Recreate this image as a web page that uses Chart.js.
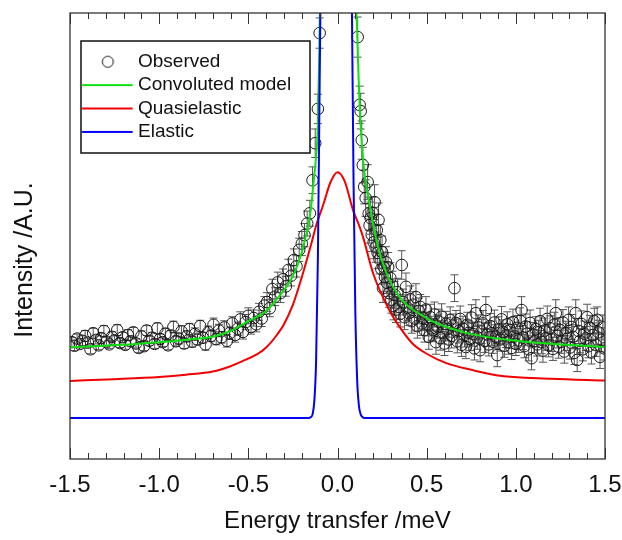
<!DOCTYPE html>
<html><head><meta charset="utf-8">
<script src="https://cdn.jsdelivr.net/npm/chart.js@4.4.1/dist/chart.umd.min.js"></script>
<style>html,body{margin:0;padding:0;background:#fff}#wrap{width:622px;height:540px}</style>
</head><body><div id="wrap"><canvas id="c" width="622" height="540"></canvas></div>
<script>
// ---------- data ----------
const seriesNames = ['Observed', 'Convoluted model', 'Quasielastic', 'Elastic'];
const xTickValues = [-1.5, -1.0, -0.5, 0, 0.5, 1.0, 1.5];
const xTickLabels = ['-1.5', '-1.0', '-0.5', '0.0', '0.5', '1.0', '1.5'];
const xTitle = 'Energy transfer /meV';
const yTitle = 'Intensity /A.U.';

// observed, energy-loss side
const leftE = [-1.49,-1.475,-1.46,-1.445,-1.43,-1.415,-1.4,-1.385,-1.37,-1.355,
-1.34,-1.325,-1.31,-1.295,-1.28,-1.265,-1.25,-1.235,-1.22,-1.205,
-1.19,-1.175,-1.16,-1.145,-1.13,-1.115,-1.1,-1.085,-1.07,-1.055,
-1.04,-1.025,-1.01,-0.995,-0.98,-0.965,-0.95,-0.935,-0.92,-0.905,
-0.89,-0.875,-0.86,-0.845,-0.83,-0.815,-0.8,-0.785,-0.77,-0.755,
-0.74,-0.725,-0.71,-0.695,-0.68,-0.665,-0.65,-0.635,-0.62,-0.605,
-0.59,-0.575,-0.56,-0.545,-0.53,-0.515,-0.5,-0.485,-0.47,-0.455,
-0.44,-0.425,-0.41,-0.395,-0.38,-0.365,-0.35,-0.335,-0.32,-0.305,
-0.29,-0.275,-0.26,-0.245,-0.23,-0.215,-0.2,-0.185,-0.17,-0.155,
-0.14,-0.125,-0.11,-0.1];
const leftI = [26.2,25.4,27.0,25.8,26.5,27.6,26.1,24.6,28.2,26.7,
25.5,27.1,28.7,26.3,25.7,27.4,26.6,28.9,26.0,27.3,
25.6,27.8,26.4,28.4,25.9,24.9,27.5,25.3,28.8,26.5,
27.2,25.8,29.3,26.9,26.2,28.1,25.5,27.7,29.6,26.4,
27.0,28.6,25.9,27.5,29.1,26.3,28.0,26.8,29.8,27.2,
25.7,28.4,27.6,30.1,26.9,28.8,27.3,29.5,26.5,28.2,
30.4,27.8,29.2,31.3,28.5,30.7,32.1,29.6,31.6,30.2,
33.0,31.5,34.4,35.2,33.8,38.1,36.4,39.6,37.2,40.3,
38.7,42.4,41.1,44.6,43.2,46.9,48.3,50.2,52.8,55.1,
62.5,70.8,78.5,95.5];
const leftErr = [1.0,1.1,1.0,0.9,1.1,1.2,1.0,1.0,1.1,0.9,
1.0,1.1,1.2,1.0,0.9,1.1,1.0,1.2,1.0,1.1,
1.0,1.2,1.1,1.1,1.0,1.0,1.2,1.0,1.1,1.0,
1.1,1.0,1.2,1.1,1.0,1.2,1.0,1.1,1.3,1.1,
1.2,1.3,1.1,1.2,1.3,1.2,1.4,1.2,1.3,1.2,
1.3,1.4,1.3,1.5,1.3,1.4,1.3,1.5,1.4,1.4,
1.5,1.6,1.5,1.7,1.6,1.7,1.8,1.6,1.8,1.7,
1.9,1.8,2.0,2.1,1.9,2.2,2.0,2.3,2.1,2.3,
2.2,2.4,2.3,2.5,2.4,2.6,2.7,2.6,2.8,2.9,
3.0,3.2,3.3,3.4];

// observed, energy-gain side close to the peak
const nearE = [0.113,0.124,0.130,0.136,0.142,0.150,0.158,0.169,0.175,0.180,
0.186,0.192,0.197,0.203,0.208,0.214,0.220,0.225,0.230,0.236,
0.240,0.246,0.250,0.255,0.260,0.266,0.272,0.278,0.284,0.290,
0.296,0.302,0.308,0.314];
const nearI = [94.6,79.4,78.0,71.5,65.9,61.0,58.5,62.1,55.0,52.4,
54.0,50.3,55.2,48.6,57.6,47.5,51.3,46.2,53.6,44.8,
49.1,42.6,46.4,38.3,43.0,40.8,44.1,39.5,43.0,37.2,
40.6,35.7,38.9,34.3];
const nearErr = [4.5,4.2,4.0,4.3,4.0,3.8,4.1,3.9,3.7,4.0,
3.6,3.8,3.5,3.7,3.9,3.4,3.6,3.5,3.8,3.3,
3.5,3.4,3.6,3.2,3.4,3.3,3.5,3.1,3.3,3.2,
3.4,3.0,3.2,3.1];

// observed, energy-gain tail
const tailE = [0.320,0.328,0.336,0.344,0.352,0.360,0.368,0.376,0.384,0.392,
0.400,0.408,0.416,0.424,0.432,0.440,0.448,0.456,0.464,0.472,
0.480,0.488,0.496,0.504,0.512,0.520,0.528,0.536,0.544,0.552,
0.560,0.568,0.576,0.584,0.592,0.600,0.608,0.616,0.624,0.632,
0.640,0.648,0.656,0.664,0.672,0.680,0.688,0.696,0.704,0.712,
0.720,0.728,0.736,0.744,0.752,0.760,0.768,0.776,0.784,0.792,
0.800,0.808,0.816,0.824,0.832,0.840,0.848,0.856,0.864,0.872,
0.880,0.888,0.896,0.904,0.912,0.920,0.928,0.936,0.944,0.952,
0.960,0.968,0.976,0.984,0.992,1.000,1.008,1.016,1.024,1.032,
1.040,1.048,1.056,1.064,1.072,1.080,1.088,1.096,1.104,1.112,
1.120,1.128,1.136,1.144,1.152,1.160,1.168,1.176,1.184,1.192,
1.200,1.208,1.216,1.224,1.232,1.240,1.248,1.256,1.264,1.272,
1.280,1.288,1.296,1.304,1.312,1.320,1.328,1.336,1.344,1.352,
1.360,1.368,1.376,1.384,1.392,1.400,1.408,1.416,1.424,1.432,
1.440,1.448,1.456,1.464,1.472,1.480,1.488,1.496];
const tailI = [36.8,33.5,37.4,34.1,32.6,43.5,35.2,31.8,38.6,33.9,
32.7,35.8,30.9,34.6,31.5,36.3,29.8,33.2,34.1,30.4,
31.6,28.9,33.5,30.2,27.4,31.8,29.3,28.9,32.4,26.2,
29.7,30.8,27.1,31.9,28.4,25.9,30.3,29.1,26.8,31.2,
27.6,29.9,38.3,30.5,26.4,28.7,31.4,25.6,29.2,27.8,
25.1,30.1,28.3,26.9,31.7,28.0,24.8,32.7,27.3,29.5,
24.4,28.6,30.4,26.5,33.4,27.9,25.7,29.8,28.2,26.3,
30.6,27.4,23.3,29.1,26.8,31.3,28.5,25.4,27.7,30.2,
26.1,28.9,24.9,30.7,27.5,25.8,29.4,26.6,31.0,33.4,
27.2,25.3,29.7,28.1,24.6,30.5,22.6,27.9,26.4,29.1,
25.7,28.4,30.9,26.2,24.3,28.8,27.1,31.4,25.5,29.3,
26.8,24.7,30.1,32.7,27.6,25.2,28.9,26.3,30.6,24.1,
28.2,26.9,31.2,25.0,29.6,27.4,23.8,32.7,22.2,28.7,
26.5,30.3,24.6,28.1,27.0,31.8,25.3,29.4,23.9,27.8,
30.9,25.6,31.2,28.4,22.9,26.7,29.5,24.8];
const tailErr = [3.0,2.9,3.1,2.8,3.0,3.2,2.9,2.8,3.1,2.9,
2.8,3.0,2.7,2.9,2.8,3.0,2.7,2.9,2.8,2.7,
2.8,2.7,2.9,2.6,2.8,2.9,2.7,2.6,2.8,2.7,
2.6,2.8,2.7,2.9,2.6,2.7,2.8,2.6,2.7,2.9,
2.7,2.6,3.0,2.8,2.6,2.7,2.9,2.6,2.8,2.7,
2.6,2.8,2.7,2.6,2.9,2.7,2.6,3.0,2.7,2.8,
2.6,2.7,2.9,2.6,3.0,2.7,2.6,2.8,2.7,2.6,
2.8,2.7,2.6,2.8,2.6,2.9,2.7,2.6,2.7,2.8,
2.6,2.8,2.6,2.9,2.7,2.6,2.8,2.7,2.9,3.0,
2.7,2.6,2.8,2.7,2.6,2.9,2.6,2.7,2.6,2.8,
2.6,2.7,2.9,2.6,2.6,2.8,2.7,2.9,2.6,2.8,
2.7,2.6,2.8,3.0,2.7,2.6,2.8,2.6,2.9,2.6,
2.7,2.6,2.9,2.6,2.8,2.7,2.6,3.0,2.6,2.8,
2.7,2.9,2.6,2.8,2.7,2.9,2.6,2.8,2.6,2.7,
2.9,2.6,2.9,2.7,2.6,2.7,2.8,2.6];

// model curves (values above 100 run off the top)
const convE = [-1.5,-1.2,-1.0,-0.8,-0.7,-0.6,-0.5,-0.4,-0.3,-0.25,-0.2,-0.15,-0.137,-0.12,-0.11,-0.1,-0.095,-0.06,0,0.06,0.09,0.1,0.11,0.12,0.14,0.18,0.24,0.33,0.5,0.7,1.0,1.5];
const convI = [25.1,25.6,26.2,26.9,27.4,28.7,30.9,33.2,37.9,41.0,46.4,55.8,61.0,68.0,75.0,97.0,110,250,600,250,130,107,96,83.4,68.6,57.0,45.7,37.4,31.6,28.5,26.5,25.1];
const quasiE = [-1.5,-1.25,-1.0,-0.85,-0.7,-0.6,-0.53,-0.45,-0.4,-0.34,-0.3,-0.25,-0.2,-0.15,-0.12,-0.08,-0.04,0,0.04,0.087,0.12,0.143,0.2,0.29,0.35,0.42,0.5,0.61,0.75,0.89,1.2,1.5];
const quasiI = [17.5,17.9,18.4,18.9,19.6,20.8,22.0,23.5,25.0,27.8,30.2,34.6,40.8,47.8,52.3,57.0,62.0,64.3,62.3,55.8,52.5,49.8,41.6,33.4,29.5,25.9,23.6,21.5,20.0,18.8,18.0,17.6];
const elasE = [-1.5,-0.16,-0.15,-0.14,-0.13,-0.12,-0.11,-0.10,-0.09,-0.08,-0.06,-0.03,0,0.03,0.06,0.07,0.08,0.09,0.10,0.11,0.12,0.13,0.14,0.15,1.5];
const elasI = [9.2,9.2,9.4,10.0,13,22,45,85,125,180,300,420,460,420,250,150,105,62,33,18,12,10,9.4,9.2,9.2];

// ---------- build ----------
const obsE = leftE.concat(nearE, tailE);
const obsI = leftI.concat(nearI, tailI);
const obsErr = leftErr.concat(nearErr, tailErr);
const pts = (xs, ys) => xs.map((x, i) => ({x: x, y: ys[i]}));

const FONT = "'Liberation Sans', Arial, Helvetica, sans-serif";
const colors = {obs: '#1a1a1a', conv: '#10e010', quasi: '#f20000', elas: '#0000f5'};

function legendImg(kind, color) {
  const c = document.createElement('canvas');
  c.width = 56; c.height = 14;
  const g = c.getContext('2d');
  g.strokeStyle = color;
  g.beginPath();
  if (kind === 'line') { g.lineWidth = 2; g.moveTo(4.5, 7); g.lineTo(55.5, 7); }
  else { g.lineWidth = 1; g.arc(30.6, 7, 5.5, 0, Math.PI * 2); }
  g.stroke();
  return c;
}
const legendImgs = [legendImg('circle', colors.obs), legendImg('line', colors.conv), legendImg('line', colors.quasi), legendImg('line', colors.elas)];

const decor = {
  id: 'decor',
  afterLayout(chart) {
    const lg = chart.legend;
    if (lg) { lg.left = 77.5; lg.top = 47.8; }
  },
  beforeDatasetDraw(chart, args) {
    if (args.index !== 0) return;
    const {ctx, chartArea: a} = chart;
    const xs = chart.scales.x, ys = chart.scales.y;
    ctx.save();
    ctx.beginPath(); ctx.rect(a.left, a.top, a.right - a.left, a.bottom - a.top); ctx.clip();
    ctx.strokeStyle = '#555'; ctx.lineWidth = 1;
    ctx.beginPath();
    for (let i = 0; i < obsE.length; i++) {
      const px = xs.getPixelForValue(obsE[i]);
      const y1 = ys.getPixelForValue(obsI[i] + obsErr[i]);
      const y2 = ys.getPixelForValue(obsI[i] - obsErr[i]);
      ctx.moveTo(px, y1); ctx.lineTo(px, y2);
      ctx.moveTo(px - 4, y1); ctx.lineTo(px + 4, y1);
      ctx.moveTo(px - 4, y2); ctx.lineTo(px + 4, y2);
    }
    ctx.stroke();
    ctx.restore();
  },
  afterDraw(chart) {
    const {ctx, chartArea: a} = chart;
    const xs = chart.scales.x;
    ctx.save();
    // legend frame on top of data
    ctx.fillStyle = '#fff';
    ctx.fillRect(81, 41, 229, 112);
    ctx.strokeStyle = '#111'; ctx.lineWidth = 1.5;
    ctx.strokeRect(81, 41, 229, 112);
    ctx.restore();
    chart.legend.draw(chart.chartArea);
    ctx.save();
    // plot frame
    ctx.strokeStyle = '#333'; ctx.lineWidth = 1.3;
    ctx.strokeRect(a.left, a.top, a.right - a.left, a.bottom - a.top);
    // inward ticks, top and bottom
    ctx.lineWidth = 1;
    ctx.beginPath();
    for (let k = 0; k <= 30; k++) {
      const v = -1.5 + k * 0.1;
      const px = Math.round(xs.getPixelForValue(v)) + 0.5;
      const len = (k % 5 === 0) ? 11 : 6;
      ctx.moveTo(px, a.bottom); ctx.lineTo(px, a.bottom - len);
      ctx.moveTo(px, a.top); ctx.lineTo(px, a.top + len);
    }
    ctx.stroke();
    // y axis title
    ctx.fillStyle = '#111';
    ctx.font = '25px ' + FONT;
    ctx.textAlign = 'center'; ctx.textBaseline = 'middle';
    ctx.translate(25, 260); ctx.rotate(-Math.PI / 2);
    ctx.fillText(yTitle, 0, 0);
    ctx.restore();
  }
};

new Chart(document.getElementById('c'), {
  type: 'scatter',
  data: {
    datasets: [
      {label: seriesNames[0], data: pts(obsE, obsI), showLine: false, pointStyle: 'circle', pointRadius: 5.8,
       pointBorderWidth: 1, pointBorderColor: colors.obs, pointBackgroundColor: 'rgba(0,0,0,0)', order: 4},
      {label: seriesNames[1], data: pts(convE, convI), showLine: true, borderColor: colors.conv, borderWidth: 2,
       pointRadius: 0, cubicInterpolationMode: 'monotone', order: 2},
      {label: seriesNames[2], data: pts(quasiE, quasiI), showLine: true, borderColor: colors.quasi, borderWidth: 2,
       pointRadius: 0, cubicInterpolationMode: 'monotone', order: 3},
      {label: seriesNames[3], data: pts(elasE, elasI), showLine: true, borderColor: colors.elas, borderWidth: 2,
       pointRadius: 0, cubicInterpolationMode: 'monotone', order: 1}
    ]
  },
  options: {
    responsive: false, animation: false, events: [],
    layout: {padding: {left: 70, top: 13, right: 17, bottom: 0}},
    scales: {
      x: {
        type: 'linear', min: -1.5, max: 1.5,
        grid: {display: false, drawTicks: false}, border: {display: false},
        afterBuildTicks: s => { s.ticks = xTickValues.map(v => ({value: v})); },
        afterFit: s => { s.height = 81; s.paddingLeft = 0; s.paddingRight = 0; },
        ticks: {autoSkip: false, maxRotation: 0, padding: 12, color: '#111',
                font: {family: FONT, size: 24}, callback: (v, i) => xTickLabels[i]},
        title: {display: true, text: xTitle, color: '#111', font: {family: FONT, size: 24},
                padding: {top: 0, bottom: 4}}
      },
      y: {type: 'linear', min: 0, max: 100, display: false}
    },
    plugins: {
      tooltip: {enabled: false},
      legend: {
        display: true, position: 'chartArea', align: 'start',
        labels: {
          color: '#111', font: {family: FONT, size: 19}, padding: 4.4,
          usePointStyle: true, pointStyleWidth: 46.6,
          sort: (a, b) => a.datasetIndex - b.datasetIndex,
          generateLabels: (chart) => {
            const items = Chart.defaults.plugins.legend.labels.generateLabels(chart);
            items.forEach(it => { it.pointStyle = legendImgs[it.datasetIndex]; });
            return items;
          }
        }
      }
    }
  },
  plugins: [decor]
});
</script>
</body></html>
